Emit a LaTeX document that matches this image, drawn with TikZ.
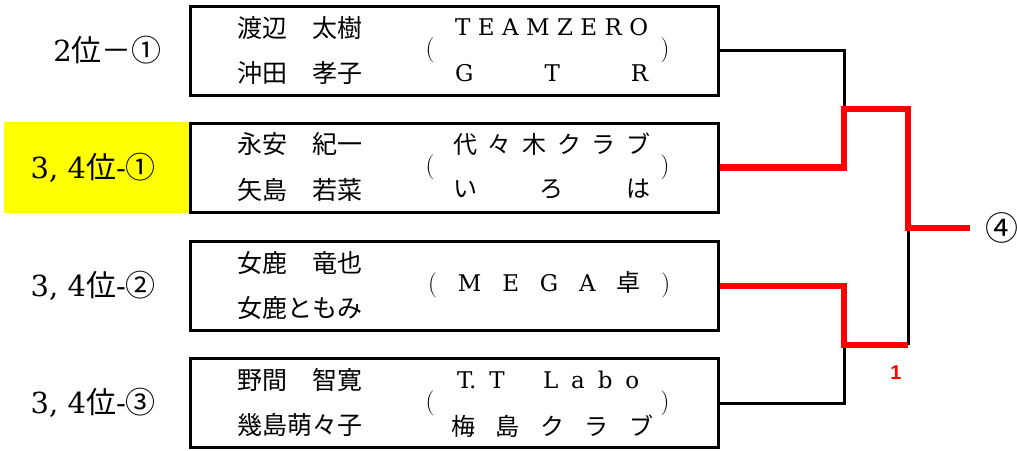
\documentclass[tikz,border=0pt]{standalone}
\usepackage{fontspec}
\newfontfamily\cjk{Noto Sans CJK JP}
\newfontfamily\latin{DejaVu Serif}
\newfontfamily\scorefont{Liberation Sans}
\usetikzlibrary{positioning}
\definecolor{winred}{HTML}{FF0000}
\definecolor{hiyellow}{HTML}{FFFF00}
\newcommand{\spreadto}[2]{\hbox to #1{#2}}
\newcommand{\kanji}[1]{{\cjk\fontsize{24}{24}\selectfont #1}}
\newcommand{\bracket}[1]{{\rmfamily\fontsize{25}{25}\selectfont #1}}

\begin{document}
\begin{tikzpicture}[x=1pt,y=-1pt,
  teambox/.style={draw,line width=3pt,minimum width=528pt,minimum height=89pt,inner sep=0pt},
  seed/.style={anchor=east,inner sep=0pt,font=\latin\fontsize{29}{29}\selectfont},
  player/.style={anchor=west,inner sep=0pt,font=\fontsize{25}{25}\selectfont\cjk},
  club/.style={anchor=west,inner sep=0pt,font=\latin\fontsize{23}{23}\selectfont},
  paren/.style={inner sep=0pt,font=\rmfamily\fontsize{25}{25}\selectfont},
  loser/.style={line width=3pt},
  winner/.style={line width=6.5pt,draw=winred}]
  \useasboundingbox (0,0) rectangle (1017,450);
  \fill[hiyellow] (4,122) rectangle (190,213);

  \node[teambox] (t1) at (454,50.5) {};
  \node[teambox] (t2) at (454,167.5) {};
  \node[teambox] (t3) at (454,286) {};
  \node[teambox] (t4) at (454,403) {};

  \node[seed] (k1) at (162,50.5) {2{\cjk\fontsize{30}{30}\selectfont 位－①}};
  \node[seed] (k2) at (156,167.5) {3, 4{\cjk\fontsize{30}{30}\selectfont 位}-{\cjk\fontsize{30}{30}\selectfont ①}};
  \node[seed] (k3) at (156,286) {3, 4{\cjk\fontsize{30}{30}\selectfont 位}-{\cjk\fontsize{30}{30}\selectfont ②}};
  \node[seed] (k4) at (156,403) {3, 4{\cjk\fontsize{30}{30}\selectfont 位}-{\cjk\fontsize{30}{30}\selectfont ③}};

  \node[player] (p1a) at (237,28.5) {渡辺　太樹};
  \node[player] (p1b) at (237,73.5) {沖田　孝子};
  \node[player] (p2a) at (237,144.5) {永安　紀一};
  \node[player] (p2b) at (237,189.5) {矢島　若菜};
  \node[player] (p3a) at (237,263) {女鹿　竜也};
  \node[player] (p3b) at (237,308) {女鹿ともみ};
  \node[player] (p4a) at (237,380) {野間　智寛};
  \node[player] (p4b) at (237,425) {幾島萌々子};

  \node[club] (c1a) at (455,27.5) {\spreadto{193pt}{T\hfill E\hfill A\hfill M\hfill Z\hfill E\hfill R\hfill O}};
  \node[club] (c1b) at (455,73.5) {\spreadto{193pt}{G\hfill T\hfill R}};
  \node[club] (c2a) at (453,144.5) {\spreadto{197pt}{\kanji{代}\hfill\kanji{々}\hfill\kanji{木}\hfill\kanji{ク}\hfill\kanji{ラ}\hfill\kanji{ブ}}};
  \node[club] (c2b) at (453,189.5) {\spreadto{197pt}{\kanji{い}\hfill\kanji{ろ}\hfill\kanji{は}}};
  \node[club] (c3) at (428,285) {\spreadto{242pt}{\bracket{(}\hfill M\hfill E\hfill G\hfill A\hfill\kanji{卓}\hfill\bracket{)}}};
  \node[club] (c4a) at (457,380) {\spreadto{182pt}{T.\hfill T\hfill\hfill\hfill L\hfill a\hfill b\hfill o}};
  \node[club] (c4b) at (451,426) {\spreadto{202pt}{\kanji{梅}\hfill\kanji{島}\hfill\kanji{ク}\hfill\kanji{ラ}\hfill\kanji{ブ}}};

  \node[paren] (o1) at (430,50.5) {(};
  \node[paren] (e1) at (665,50.5) {)};
  \node[paren] (o2) at (430,167.5) {(};
  \node[paren] (e2) at (665,167.5) {)};
  \node[paren] (o4) at (430,403) {(};
  \node[paren] (e4) at (665,403) {)};

  \coordinate (s1) at (844,109);
  \coordinate (s2) at (844,345);
  \coordinate (f) at (908,228);
  \coordinate (s2r) at (908,345);
  \coordinate (champ) at (970,228);

  \draw[loser] (t1.east) -| (s1);
  \draw[loser] (t4.east) -| (s2);
  \draw[loser] (f) -- (s2r);
  \draw[winner] (t2.east) -| (s1) -| (f) -- (champ);
  \draw[winner] (t3.east) -| (s2) -- (s2r);

  \node[inner sep=0pt,font=\fontsize{33}{33}\selectfont\cjk] (w) at (1002,228) {④};
  \node[inner sep=0pt,text=winred,font=\scorefont\bfseries\fontsize{20}{20}\selectfont] (score) at (896,373) {1};
\end{tikzpicture}
\end{document}
